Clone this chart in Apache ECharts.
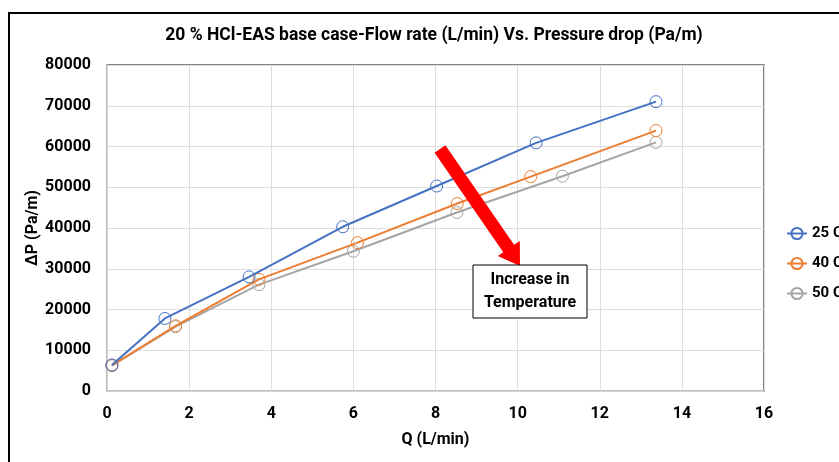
<!DOCTYPE html>
<html><head><meta charset="utf-8">
<script src="https://cdn.jsdelivr.net/npm/echarts@6/dist/echarts.min.js"></script>
<style>html,body{margin:0;padding:0;background:#fff}#c{width:839px;height:462px}</style>
</head><body><div id="c"></div>
<script>
const seriesNames = ['25 C', '40 C', '50 C'];
const q25 = [0.12, 1.41, 3.46, 5.74, 8.03, 10.45, 13.37];
const dp25 = [6400, 17800, 28000, 40300, 50300, 60900, 71000];
const q40 = [0.12, 1.67, 3.70, 6.10, 8.53, 10.32, 13.37];
const dp40 = [6300, 16000, 27400, 36400, 46000, 52600, 63900];
const q50 = [0.12, 1.67, 3.70, 6.00, 8.52, 11.09, 13.37];
const dp50 = [6200, 15800, 26100, 34300, 43800, 52700, 61000];
const colors = ['#4472C4', '#ED7D31', '#A5A5A5'];
const xTicks = {min: 0, max: 16, interval: 2};
const yTicks = {min: 0, max: 80000, interval: 10000};
const title = '20 % HCl-EAS base case-Flow rate (L/min) Vs. Pressure drop (Pa/m)';
const noteLines = ['Increase in', 'Temperature'];

const FONT = '"Roboto", sans-serif';
const pairs = (xs, ys) => xs.map((x, i) => [x, ys[i]]);
const allData = [pairs(q25, dp25), pairs(q40, dp40), pairs(q50, dp50)];

const chart = echarts.init(document.getElementById('c'), null, {renderer: 'canvas'});
chart.setOption({
  backgroundColor: '#fff',
  animation: false,
  title: {text: title, left: 429, textAlign: 'center', top: 22,
    textStyle: {fontFamily: FONT, fontWeight: 'bold', fontSize: 17.5, color: '#000'}},
  legend: {orient: 'vertical', left: 781, top: 221, itemWidth: 20, itemHeight: 14, itemGap: 15,
    textStyle: {fontFamily: FONT, fontWeight: 'bold', fontSize: 15, color: '#000', overflow: 'none'},
    data: seriesNames},
  grid: {left: 107, right: 75, top: 65, bottom: 71, show: true, borderColor: '#595959', borderWidth: 1.5},
  xAxis: {type: 'value', min: xTicks.min, max: xTicks.max, interval: xTicks.interval,
    name: 'Q (L/min)', nameLocation: 'middle', nameGap: 41,
    nameTextStyle: {fontFamily: FONT, fontWeight: 'bold', fontSize: 16, color: '#000'},
    axisLine: {show: true, lineStyle: {color: '#d0d0d0', width: 1.5}}, axisTick: {show: false},
    axisLabel: {margin: 15, fontFamily: FONT, fontWeight: 'bold', fontSize: 16, color: '#000'},
    splitLine: {show: true, lineStyle: {color: '#dedede', width: 1}}},
  yAxis: {type: 'value', min: yTicks.min, max: yTicks.max, interval: yTicks.interval,
    name: 'ΔP (Pa/m)', nameLocation: 'middle', nameGap: 66, nameRotate: 90, nameMoveOverlap: false,
    nameTextStyle: {fontFamily: FONT, fontWeight: 'bold', fontSize: 16, color: '#000'},
    axisLine: {show: true, lineStyle: {color: '#d0d0d0', width: 1.5}}, axisTick: {show: false},
    axisLabel: {margin: 16, fontFamily: FONT, fontWeight: 'bold', fontSize: 16, color: '#000',
      formatter: v => String(v)},
    splitLine: {show: true, lineStyle: {color: '#dedede', width: 1}}},
  series: seriesNames.map((n, i) => ({
    name: n, type: 'line', data: allData[i], symbol: 'circle', symbolSize: 12,
    lineStyle: {color: colors[i], width: 2},
    itemStyle: {color: 'rgba(255,255,255,0)', borderColor: colors[i], borderWidth: 1},
    z: 3 - i
  })),
  graphic: [
    {type: 'rect', shape: {x: 9, y: 13, width: 860, height: 470}, style: {fill: 'none', stroke: '#000', lineWidth: 2}, z: 100},
    {type: 'polygon', shape: {points: [[445.4,145.3],[514.1,244.8],[519.8,240.9],[520,266],[497.8,256.1],[503.3,252.2],[434.6,152.7]]},
      style: {fill: '#ff0000'}, z: 100},
    {type: 'rect', shape: {x: 473, y: 265, width: 114, height: 53}, style: {fill: '#fff', stroke: '#000', lineWidth: 1}, z: 100},
    {type: 'text', x: 530, y: 291, z: 101, style: {text: noteLines.join('\n'), align: 'center', verticalAlign: 'middle',
      font: 'bold 16px ' + FONT, fill: '#000', lineHeight: 23}}
  ]
});
</script></body></html>
